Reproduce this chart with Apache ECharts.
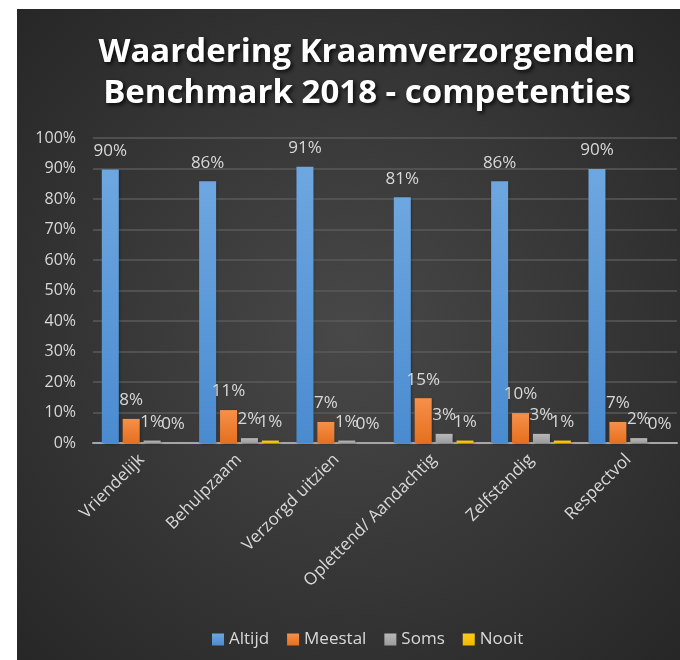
<!DOCTYPE html>
<html>
<head>
<meta charset="utf-8">
<title>Waardering Kraamverzorgenden</title>
<script src="https://cdn.jsdelivr.net/npm/echarts@6/dist/echarts.min.js"></script>
<style>
html, body { margin: 0; padding: 0; background: #ffffff; }
#wrap { position: relative; width: 680px; height: 660px; background: #ffffff; }
#chart { position: absolute; left: 17px; top: 9px; width: 663px; height: 651px; }
</style>
</head>
<body>
<div id="wrap"><div id="chart"></div></div>
<script>
var categories = [ 'Vriendelijk', 'Behulpzaam', 'Verzorgd uitzien', 'Oplettend/ Aandachtig', 'Zelfstandig', 'Respectvol' ];
var seriesNames = [ 'Altijd', 'Meestal', 'Soms', 'Nooit' ];
var altijd = [ 89.7, 85.8, 90.6, 80.6, 85.8, 89.8 ];
var meestal = [ 7.9, 10.8, 6.9, 14.7, 9.8, 6.9 ];
var soms = [ 0.8, 1.6, 0.8, 3.0, 3.0, 1.6 ];
var nooit = [ 0, 0.8, 0, 0.8, 0.8, 0 ];
var yTicks = [ 0, 10, 20, 30, 40, 50, 60, 70, 80, 90, 100 ];

var textColor = '#d9d9d9';
var fontFamily = '"Open Sans", "Noto Sans", sans-serif';

function barColor(top, bottom) {
	return new echarts.graphic.LinearGradient(0, 0, 0, 1, [ {
		offset : 0,
		color : top
	}, {
		offset : 1,
		color : bottom
	} ]);
}

function makeSeries(name, data, top, bottom) {
	return {
		name : name,
		type : 'bar',
		data : data,
		barWidth : 17,
		barGap : '23%',
		itemStyle : {
			color : barColor(top, bottom),
			shadowColor : 'rgba(0, 0, 0, 0.35)',
			shadowBlur : 3,
			shadowOffsetX : 1,
			shadowOffsetY : 1
		},
		label : {
			show : true,
			position : 'top',
			distance : 10,
			color : textColor,
			fontSize : 17,
			fontFamily : fontFamily,
			formatter : function(p) {
				return Math.round(p.value) + '%';
			}
		}
	};
}

var chart = echarts.init(document.getElementById('chart'));
var option = {
	backgroundColor : new echarts.graphic.RadialGradient(0.5, 0.5, 0.7, [ {
		offset : 0,
		color : '#484848'
	}, {
		offset : 1,
		color : '#272727'
	} ]),
	animation : false,
	title : {
		text : 'Waardering Kraamverzorgenden\nBenchmark 2018 - competenties',
		left : 345,
		top : 18,
		textAlign : 'center',
		textStyle : {
			color : '#ffffff',
			fontSize : 33,
			fontWeight : 'bold',
			fontFamily : fontFamily,
			lineHeight : 41,
			textShadowColor : 'rgba(0, 0, 0, 0.85)',
			textShadowBlur : 4,
			textShadowOffsetX : 2,
			textShadowOffsetY : 2
		}
	},
	legend : {
		data : seriesNames,
		left : 190,
		top : 617,
		itemWidth : 12,
		itemHeight : 12,
		itemGap : 18,
		icon : 'rect',
		textStyle : {
			color : textColor,
			fontSize : 17,
			fontFamily : fontFamily
		}
	},
	grid : {
		left : 76,
		right : 3,
		top : 129,
		bottom : 217,
		containLabel : false
	},
	xAxis : {
		type : 'category',
		data : categories,
		axisLine : {
			lineStyle : {
				color : '#a6a6a6',
				width : 2
			}
		},
		axisTick : {
			show : false
		},
		axisLabel : {
			rotate : 45,
			margin : 14,
			interval : 0,
			color : textColor,
			fontSize : 17,
			fontFamily : fontFamily
		}
	},
	yAxis : {
		type : 'value',
		min : yTicks[0],
		max : yTicks[yTicks.length - 1],
		interval : 10,
		axisLine : {
			show : false
		},
		axisTick : {
			show : false
		},
		splitLine : {
			lineStyle : {
				color : '#5a5a5a',
				width : 1.5
			}
		},
		axisLabel : {
			formatter : '{value}%',
			color : textColor,
			fontSize : 16,
			fontFamily : fontFamily,
			margin : 17
		}
	},
	series : [
		makeSeries(seriesNames[0], altijd, '#6ea7e0', '#4a8bd0'),
		makeSeries(seriesNames[1], meestal, '#f6904a', '#e5701e'),
		makeSeries(seriesNames[2], soms, '#b8b8b8', '#9c9c9c'),
		makeSeries(seriesNames[3], nooit, '#ffcc1a', '#f2b800')
	]
};
chart.setOption(option);
</script>
</body>
</html>
